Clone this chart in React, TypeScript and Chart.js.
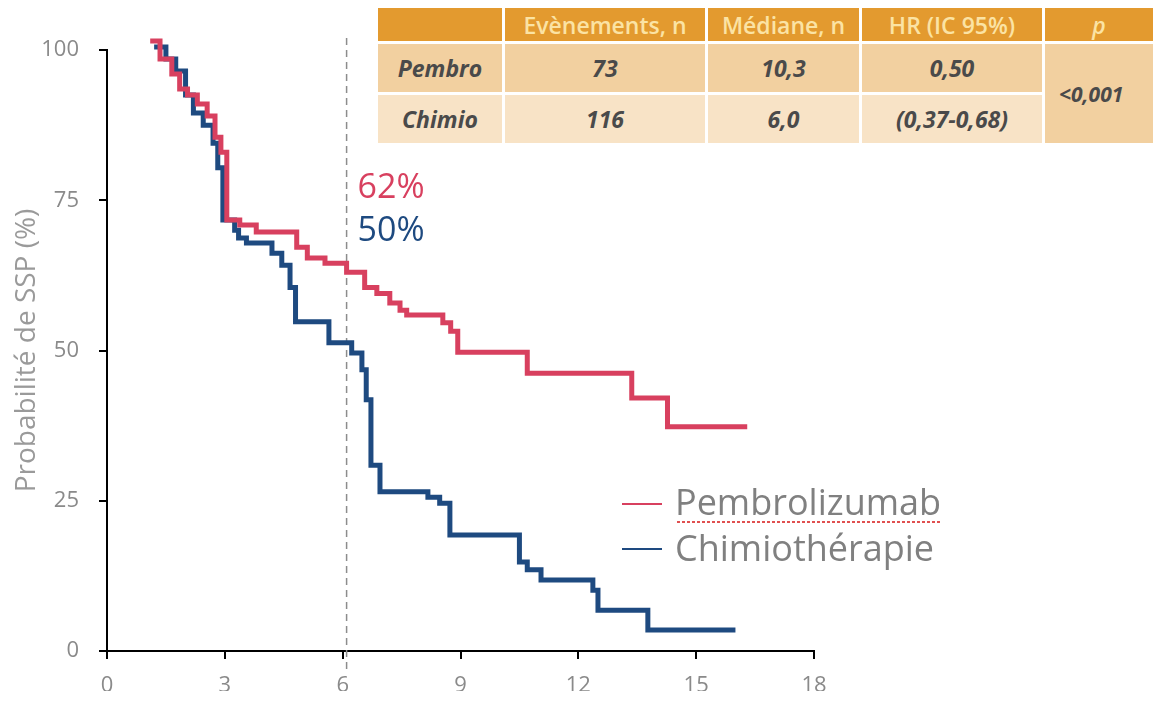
import React, { useEffect, useRef } from "react";
import { Chart, registerables } from "chart.js";

Chart.register(...registerables);

// ---- Data ----
const pembroMonths = [1.1, 1.35, 1.65, 1.85, 2.05, 2.3, 2.55, 2.75, 2.9, 3.05, 3.38, 3.8, 4.83, 5.1, 5.55, 6.1, 6.56, 6.87, 7.2, 7.46, 7.63, 8.55, 8.75, 8.93, 10.7, 13.36, 14.27, 16.3];
const pembroSurvival = [101.5, 98.5, 96, 93.5, 92.5, 91, 89, 85.5, 83, 71.7, 70.9, 69.7, 67.2, 65.4, 64.5, 63, 60.5, 59.5, 57.9, 56.7, 55.9, 54.6, 53.2, 49.7, 46.2, 42.1, 37.3, 37.3];

const chimioMonths = [1.2, 1.5, 1.75, 2.0, 2.2, 2.45, 2.7, 2.82, 2.95, 3.25, 3.35, 3.55, 4.2, 4.45, 4.66, 4.8, 5.65, 6.23, 6.49, 6.6, 6.72, 6.95, 8.17, 8.47, 8.73, 10.5, 10.7, 11.05, 12.37, 12.5, 13.77, 16.0];
const chimioSurvival = [100.5, 98.5, 96.5, 92.5, 89.5, 87.5, 84.5, 80.4, 71.7, 70, 68.7, 67.9, 66.2, 64.2, 60.5, 54.8, 51.3, 49.6, 46.8, 41.8, 30.9, 26.5, 25.6, 24.6, 19.3, 14.8, 13.5, 11.8, 10.1, 6.8, 3.5, 3.5];

const xTickValues = [0, 3, 6, 9, 12, 15, 18];
const yTickValues = [0, 25, 50, 75, 100];
const landmarkMonth = 6.1;
const landmarkLabels = ["62%", "50%"];
const seriesNames = ["Pembrolizumab", "Chimiothérapie"];
const yTitle = "Probabilité de SSP (%)";

const tableHeader = ["", "Evènements, n", "Médiane, n", "HR (IC 95%)", "p"];
const tableRowLabels = ["Pembro", "Chimio"];
const tableEvents = ["73", "116"];
const tableMedian = ["10,3", "6,0"];
const tableHR = ["0,50", "(0,37-0,68)"];
const tableP = "<0,001";

const RED = "#d8405f";
const BLUE = "#1e4a80";
const GRAY = "#8a8a8a";
const FONT = "'Open Sans', 'Noto Sans', sans-serif";

const overlayPlugin = {
  id: "overlay",
  beforeDatasetsDraw(chart: any) {
    const { ctx, scales, chartArea } = chart;
    const x = scales.x.getPixelForValue(landmarkMonth);
    ctx.save();
    ctx.strokeStyle = "#8c8c8c";
    ctx.lineWidth = 1.5;
    ctx.setLineDash([7, 5]);
    ctx.beginPath();
    ctx.moveTo(x, scales.y.getPixelForValue(102));
    ctx.lineTo(x, chartArea.bottom + 18);
    ctx.stroke();
    ctx.restore();
  },
  afterDraw(chart: any) {
    const { ctx, scales } = chart;
    const x = scales.x.getPixelForValue(landmarkMonth) + 11;
    ctx.save();
    ctx.font = `34px ${FONT}`;
    ctx.textAlign = "left";
    ctx.textBaseline = "alphabetic";
    ctx.fillStyle = RED;
    ctx.fillText(landmarkLabels[0], x, 198);
    ctx.fillStyle = BLUE;
    ctx.fillText(landmarkLabels[1], x, 241);

    // legend
    const lx0 = 622, lx1 = 662;
    ctx.lineWidth = 2;
    ctx.strokeStyle = RED;
    ctx.beginPath(); ctx.moveTo(lx0, 504); ctx.lineTo(lx1, 504); ctx.stroke();
    ctx.strokeStyle = BLUE;
    ctx.beginPath(); ctx.moveTo(lx0, 549); ctx.lineTo(lx1, 549); ctx.stroke();
    ctx.font = `36px ${FONT}`;
    ctx.fillStyle = "#808080";
    ctx.fillText(seriesNames[0], 675, 515);
    ctx.fillText(seriesNames[1], 675, 561);
    const w = ctx.measureText(seriesNames[0]).width;
    ctx.strokeStyle = "#e05050";
    ctx.lineWidth = 2;
    ctx.setLineDash([3, 2]);
    ctx.beginPath(); ctx.moveTo(677, 522); ctx.lineTo(675 + w, 522); ctx.stroke();
    ctx.restore();
  },
};

const cellBase: React.CSSProperties = {
  display: "flex",
  alignItems: "center",
  justifyContent: "center",
  fontFamily: FONT,
  color: "#4a4a4a",
  fontStyle: "italic",
  fontWeight: 700,
  fontSize: 23,
};

function ResultsTable() {
  const headBg = "#e39a2f";
  const row1 = "#f2d0a0";
  const row2 = "#f8e3c6";
  const headCell = (t: string, i: number) => (
    <div
      key={"h" + i}
      style={{
        background: headBg,
        display: "flex",
        alignItems: "center",
        justifyContent: "center",
        fontFamily: FONT,
        color: "#fbe3a4",
        fontSize: 23,
        fontWeight: 600,
        fontStyle: i === 4 ? "italic" : "normal",
        gridColumn: i + 1,
        gridRow: 1,
      }}
    >
      {t}
    </div>
  );
  const cells: any[] = tableHeader.map(headCell);
  tableRowLabels.forEach((lab, r) => {
    const bg = r === 0 ? row1 : row2;
    const vals = [lab, tableEvents[r], tableMedian[r], tableHR[r]];
    vals.forEach((v, c) => {
      cells.push(
        <div key={`c${r}${c}`} style={{ ...cellBase, background: bg, gridColumn: c + 1, gridRow: r + 2 }}>
          {v}
        </div>
      );
    });
  });
  cells.push(
    <div key="p" style={{ ...cellBase, background: row1, gridColumn: 5, gridRow: "2 / span 2", fontSize: 21, justifyContent: "flex-start", paddingLeft: 14 }}>
      {tableP}
    </div>
  );
  return (
    <div
      style={{
        position: "absolute",
        left: 378,
        top: 8,
        width: 775,
        height: 135,
        display: "grid",
        gridTemplateColumns: "124px 200px 151px 180px 1fr",
        gridTemplateRows: "33px 48px 48px",
        columnGap: 3,
        rowGap: 3,
        background: "#ffffff",
      }}
    >
      {cells}
    </div>
  );
}

export default function App() {
  const ref = useRef<HTMLCanvasElement>(null);
  useEffect(() => {
    const canvas = ref.current!;
    const chart = new Chart(canvas, {
      type: "line",
      data: {
        datasets: [
          {
            label: seriesNames[0],
            data: pembroMonths.map((m, i) => ({ x: m, y: pembroSurvival[i] })),
            borderColor: RED,
            backgroundColor: RED,
            borderWidth: 5,
            pointRadius: 0,
            stepped: "before",
            clip: false,
            fill: false,
          } as any,
          {
            label: seriesNames[1],
            data: chimioMonths.map((m, i) => ({ x: m, y: chimioSurvival[i] })),
            borderColor: BLUE,
            backgroundColor: BLUE,
            borderWidth: 5,
            pointRadius: 0,
            stepped: "before",
            clip: false,
            fill: false,
          } as any,
        ],
      },
      options: {
        responsive: false,
        animation: false,
        devicePixelRatio: 1,
        layout: { padding: { left: 0, top: 50, right: 339, bottom: 10 } },
        plugins: { legend: { display: false }, tooltip: { enabled: false } },
        scales: {
          x: {
            type: "linear",
            min: 0,
            max: 18,
            afterBuildTicks: (s: any) => {
              s.ticks = xTickValues.map((v) => ({ value: v }));
            },
            afterFit: (s: any) => {
              s.height = 40;
            },
            ticks: { color: GRAY, font: { family: FONT, size: 22 }, padding: 14, maxRotation: 0 },
            grid: { drawOnChartArea: false, drawTicks: true, tickLength: 8, tickColor: "#000", lineWidth: 2 },
            border: { color: "#000", width: 2 },
          },
          y: {
            type: "linear",
            min: 0,
            max: 100,
            afterBuildTicks: (s: any) => {
              s.ticks = yTickValues.map((v) => ({ value: v }));
            },
            afterFit: (s: any) => {
              s.width = 107;
            },
            ticks: { color: GRAY, font: { family: FONT, size: 22 }, padding: 20 },
            grid: { drawOnChartArea: false, drawTicks: true, tickLength: 8, tickColor: "#000", lineWidth: 2 },
            border: { color: "#000", width: 2 },
            title: { display: true, text: yTitle, color: "#9a9a9a", font: { family: FONT, size: 28 }, padding: { top: 10, bottom: 0 } },
          },
        },
      } as any,
      plugins: [overlayPlugin],
    });
    return () => chart.destroy();
  }, []);

  return (
    <div style={{ position: "absolute", left: 0, top: 0, width: 1153, height: 701, background: "#fff", overflow: "hidden" }}>
      <canvas ref={ref} width={1153} height={701} style={{ position: "absolute", left: 0, top: 0 }} />
      <ResultsTable />
    </div>
  );
}
